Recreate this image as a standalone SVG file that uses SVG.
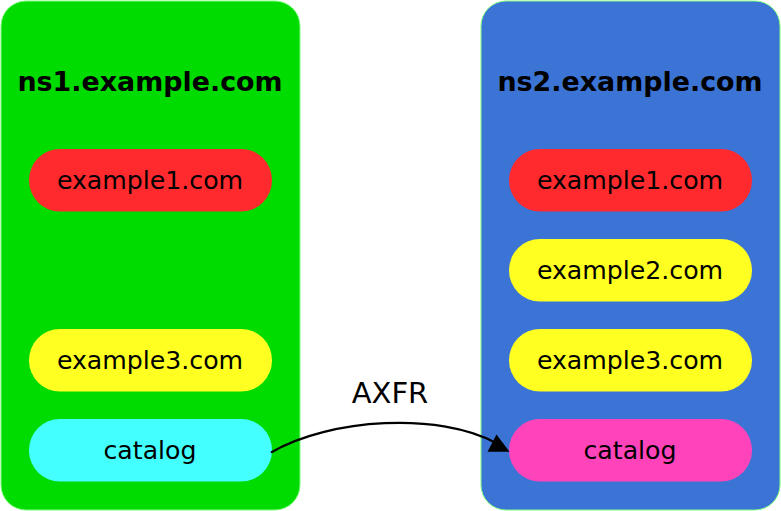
<svg xmlns="http://www.w3.org/2000/svg" width="781" height="511" viewBox="0 0 781 511">
<defs>
<style>
.box{stroke:#80ff80;stroke-width:1}
.title{font-family:"DejaVu Sans",sans-serif;font-weight:bold;font-size:26.9px;text-anchor:middle;fill:#000}
.lbl{font-family:"DejaVu Sans",sans-serif;font-size:25.2px;text-anchor:middle;fill:#000}
.red{fill:#ff2a2e}
.yel{fill:#ffff22}
.cya{fill:#44ffff}
.mag{fill:#ff44bb}
.edge{fill:none;stroke:#000;stroke-width:2.2}
</style>
</defs>
<rect width="781" height="511" fill="#fff"/>
<g id="ns1">
<rect class="box" x="1" y="1" width="299" height="509" rx="25" fill="#00dc00"/>
<text class="title" x="150" y="90.7">ns1.example.com</text>
</g>
<g id="ns2">
<rect class="box" x="481" y="1" width="299" height="509" rx="25" fill="#3b74d5"/>
<text class="title" x="630" y="90.7">ns2.example.com</text>
</g>
<g id="ns1-example1">
<rect class="red" x="29" y="149" width="243" height="62.5" rx="31"/>
<text class="lbl" x="150" y="189.3">example1.com</text>
</g>
<g id="ns1-example3">
<rect class="yel" x="29" y="329" width="243" height="62.5" rx="31"/>
<text class="lbl" x="150" y="369.3">example3.com</text>
</g>
<g id="ns1-catalog">
<rect class="cya" x="29" y="419" width="243" height="62.5" rx="31"/>
<text class="lbl" x="150" y="459.3">catalog</text>
</g>
<g id="ns2-example1">
<rect class="red" x="509" y="149" width="243" height="62.5" rx="31"/>
<text class="lbl" x="630" y="189.3">example1.com</text>
</g>
<g id="ns2-example2">
<rect class="yel" x="509" y="239" width="243" height="62.5" rx="31"/>
<text class="lbl" x="630" y="279.3">example2.com</text>
</g>
<g id="ns2-example3">
<rect class="yel" x="509" y="329" width="243" height="62.5" rx="31"/>
<text class="lbl" x="630" y="369.3">example3.com</text>
</g>
<g id="ns2-catalog">
<rect class="mag" x="509" y="419" width="243" height="62.5" rx="31"/>
<text class="lbl" x="630" y="459.3">catalog</text>
</g>
<g id="connectors">
<path class="edge" d="M271,452.5 C330,418 440,412 496,443"/>
<path d="M509.5,451.7 L496.5,434.5 L487.5,451.7 z" fill="#000"/>
<text x="390" y="402.5" font-family="DejaVu Sans, sans-serif" font-size="29px" text-anchor="middle">AXFR</text>
</g>
</svg>
